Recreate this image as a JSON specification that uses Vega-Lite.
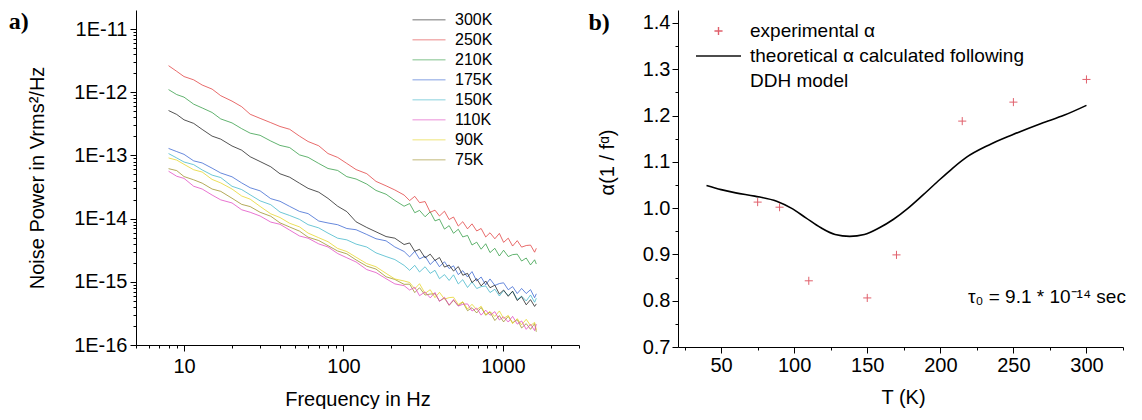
{
  "$schema": "https://vega.github.io/schema/vega-lite/v6.json",
  "padding": {"left": 8, "top": 10, "right": 0, "bottom": 0},
  "spacing": 8,
  "resolve": {"scale": {"color": "independent", "shape": "independent"}, "legend": {"color": "independent", "shape": "independent"}},
  "config": {
    "font": "Liberation Sans",
    "view": {"stroke": null},
    "axis": {"grid": false, "domainColor": "black", "domainWidth": 1, "tickColor": "black", "tickWidth": 1, "labelColor": "black", "titleColor": "black", "labelFont": "Liberation Sans", "titleFont": "Liberation Sans", "labelFontSize": 20, "titleFontSize": 20, "titleFontWeight": "normal", "labelOverlap": false, "labelFlush": false},
    "legend": {"labelFont": "Liberation Sans", "labelColor": "black", "padding": 0}
  },
  "hconcat": [
    {
      "width": 443,
      "height": 335,
      "title": {"text": "a)", "orient": "left", "anchor": "end", "frame": "group", "angle": 0, "align": "right", "baseline": "top", "dy": 0, "offset": -21, "font": "Liberation Serif", "fontSize": 24, "fontWeight": "bold", "color": "black"},
      "data": {"values": [
        {"f": 8, "300K": 5.13e-13, "250K": 2.63e-12, "210K": 1.10e-12, "175K": 1.29e-13, "150K": 1.07e-13, "110K": 5.62e-14, "90K": 9.12e-14, "75K": 6.17e-14},
        {"f": 9, "300K": 4.45e-13, "250K": 2.14e-12, "210K": 9.18e-13, "175K": 1.15e-13, "150K": 9.12e-14, "110K": 4.68e-14, "90K": 8.43e-14, "75K": 5.75e-14},
        {"f": 10, "300K": 3.66e-13, "250K": 1.77e-12, "210K": 8.36e-13, "175K": 1.04e-13, "150K": 7.87e-14, "110K": 4.33e-14, "90K": 7.23e-14, "75K": 4.63e-14},
        {"f": 11.5, "300K": 3.21e-13, "250K": 1.57e-12, "210K": 6.47e-13, "175K": 8.20e-14, "150K": 7.14e-14, "110K": 3.25e-14, "90K": 5.93e-14, "75K": 4.11e-14},
        {"f": 13, "300K": 2.58e-13, "250K": 1.30e-12, "210K": 5.64e-13, "175K": 7.60e-14, "150K": 5.90e-14, "110K": 2.94e-14, "90K": 5.46e-14, "75K": 3.64e-14},
        {"f": 15, "300K": 2.02e-13, "250K": 1.12e-12, "210K": 4.78e-13, "175K": 6.28e-14, "150K": 4.88e-14, "110K": 2.36e-14, "90K": 4.17e-14, "75K": 2.94e-14},
        {"f": 17, "300K": 1.81e-13, "250K": 8.81e-13, "210K": 3.78e-13, "175K": 5.27e-14, "150K": 4.46e-14, "110K": 1.98e-14, "90K": 3.67e-14, "75K": 2.70e-14},
        {"f": 20, "300K": 1.41e-13, "250K": 7.23e-13, "210K": 3.27e-13, "175K": 4.59e-14, "150K": 3.25e-14, "110K": 1.77e-14, "90K": 2.94e-14, "75K": 2.10e-14},
        {"f": 23, "300K": 1.21e-13, "250K": 5.90e-13, "210K": 2.65e-13, "175K": 3.67e-14, "150K": 2.88e-14, "110K": 1.38e-14, "90K": 2.28e-14, "75K": 1.68e-14},
        {"f": 26, "300K": 9.53e-14, "250K": 4.48e-13, "210K": 2.25e-13, "175K": 3.08e-14, "150K": 2.38e-14, "110K": 1.26e-14, "90K": 2.03e-14, "75K": 1.55e-14},
        {"f": 30, "300K": 8.00e-14, "250K": 3.86e-13, "210K": 2.08e-13, "175K": 2.75e-14, "150K": 1.91e-14, "110K": 1.10e-14, "90K": 1.56e-14, "75K": 1.26e-14},
        {"f": 35, "300K": 6.61e-14, "250K": 3.30e-13, "210K": 1.69e-13, "175K": 2.07e-14, "150K": 1.66e-14, "110K": 8.81e-15, "90K": 1.19e-14, "75K": 1.09e-14},
        {"f": 40, "300K": 5.12e-14, "250K": 2.87e-13, "210K": 1.44e-13, "175K": 1.88e-14, "150K": 1.27e-14, "110K": 8.13e-15, "90K": 1.04e-14, "75K": 8.57e-15},
        {"f": 46, "300K": 4.52e-14, "250K": 2.59e-13, "210K": 1.33e-13, "175K": 1.56e-14, "150K": 1.12e-14, "110K": 6.58e-15, "90K": 8.43e-15, "75K": 7.36e-15},
        {"f": 53, "300K": 3.63e-14, "250K": 2.02e-13, "210K": 1.02e-13, "175K": 1.30e-14, "150K": 9.73e-15, "110K": 5.31e-15, "90K": 7.40e-15, "75K": 6.34e-15},
        {"f": 60, "300K": 3.01e-14, "250K": 1.66e-13, "210K": 9.33e-14, "175K": 1.20e-14, "150K": 8.02e-15, "110K": 4.90e-15, "90K": 5.90e-15, "75K": 5.08e-15},
        {"f": 70, "300K": 2.62e-14, "250K": 1.42e-13, "210K": 7.46e-14, "175K": 9.16e-15, "150K": 7.13e-15, "110K": 3.98e-15, "90K": 4.98e-15, "75K": 4.50e-15},
        {"f": 80, "300K": 2.09e-14, "250K": 1.07e-13, "210K": 6.21e-14, "175K": 8.53e-15, "150K": 5.89e-15, "110K": 3.56e-15, "90K": 4.31e-15, "75K": 3.73e-15},
        {"f": 92, "300K": 1.57e-14, "250K": 9.29e-14, "210K": 5.78e-14, "175K": 8.00e-15, "150K": 4.90e-15, "110K": 2.80e-15, "90K": 3.37e-15, "75K": 3.07e-15},
        {"f": 105, "300K": 1.29e-14, "250K": 7.46e-14, "210K": 4.61e-14, "175K": 6.97e-15, "150K": 4.61e-15, "110K": 2.40e-15, "90K": 3.01e-15, "75K": 2.77e-15},
        {"f": 120, "300K": 8.89e-15, "250K": 5.97e-14, "210K": 4.23e-14, "175K": 6.67e-15, "150K": 3.95e-15, "110K": 2.06e-15, "90K": 2.45e-15, "75K": 2.22e-15},
        {"f": 140, "300K": 7.24e-15, "250K": 5.14e-14, "210K": 3.52e-14, "175K": 5.61e-15, "150K": 3.55e-15, "110K": 1.56e-15, "90K": 1.94e-15, "75K": 1.77e-15},
        {"f": 160, "300K": 6.18e-15, "250K": 3.88e-14, "210K": 2.79e-14, "175K": 4.80e-15, "150K": 2.87e-15, "110K": 1.40e-15, "90K": 1.73e-15, "75K": 1.59e-15},
        {"f": 185, "300K": 5.20e-15, "250K": 3.30e-14, "210K": 2.43e-14, "175K": 4.45e-15, "150K": 2.51e-15, "110K": 1.12e-15, "90K": 1.36e-15, "75K": 1.20e-15},
        {"f": 210, "300K": 4.90e-15, "250K": 2.84e-14, "210K": 1.94e-14, "175K": 3.56e-15, "150K": 2.25e-15, "110K": 9.27e-16, "90K": 1.11e-15, "75K": 1.09e-15},
        {"f": 240, "300K": 3.89e-15, "250K": 2.36e-14, "210K": 1.57e-14, "175K": 3.02e-15, "150K": 1.82e-15, "110K": 8.69e-16, "90K": 1.03e-15, "75K": 9.12e-16},
        {"f": 260, "300K": 4.12e-15, "250K": 1.93e-14, "210K": 1.73e-14, "175K": 2.48e-15, "150K": 1.52e-15, "110K": 7.41e-16, "90K": 9.75e-16, "75K": 9.18e-16},
        {"f": 280, "300K": 3.04e-15, "250K": 2.25e-14, "210K": 1.24e-14, "175K": 3.04e-15, "150K": 1.82e-15, "110K": 8.20e-16, "90K": 7.74e-16, "75K": 6.75e-16},
        {"f": 300, "300K": 3.27e-15, "250K": 1.79e-14, "210K": 1.35e-14, "175K": 2.30e-15, "150K": 1.43e-15, "110K": 6.03e-16, "90K": 9.33e-16, "75K": 8.07e-16},
        {"f": 325, "300K": 2.39e-15, "250K": 1.86e-14, "210K": 1.07e-14, "175K": 2.55e-15, "150K": 1.73e-15, "110K": 6.93e-16, "90K": 6.55e-16, "75K": 6.17e-16},
        {"f": 350, "300K": 2.74e-15, "250K": 1.26e-14, "210K": 1.28e-14, "175K": 1.88e-15, "150K": 1.36e-15, "110K": 5.56e-16, "90K": 7.50e-16, "75K": 6.40e-16},
        {"f": 375, "300K": 2.18e-15, "250K": 1.36e-14, "210K": 9.20e-15, "175K": 2.22e-15, "150K": 1.52e-15, "110K": 6.78e-16, "90K": 5.61e-16, "75K": 6.46e-16},
        {"f": 400, "300K": 2.42e-15, "250K": 1.10e-14, "210K": 9.79e-15, "175K": 1.73e-15, "150K": 1.12e-15, "110K": 4.89e-16, "90K": 6.82e-16, "75K": 4.98e-16},
        {"f": 430, "300K": 1.71e-15, "250K": 1.31e-14, "210K": 6.82e-15, "175K": 2.08e-15, "150K": 1.30e-15, "110K": 5.69e-16, "90K": 5.33e-16, "75K": 5.52e-16},
        {"f": 460, "300K": 1.84e-15, "250K": 9.66e-15, "210K": 7.74e-15, "175K": 1.62e-15, "150K": 1.05e-15, "110K": 4.28e-16, "90K": 5.62e-16, "75K": 4.24e-16},
        {"f": 490, "300K": 1.48e-15, "250K": 1.06e-14, "210K": 5.86e-15, "175K": 1.79e-15, "150K": 1.29e-15, "110K": 5.25e-16, "90K": 5.70e-16, "75K": 5.07e-16},
        {"f": 525, "300K": 1.74e-15, "250K": 7.62e-15, "210K": 6.79e-15, "175K": 1.30e-15, "150K": 9.25e-16, "110K": 4.13e-16, "90K": 4.37e-16, "75K": 4.18e-16},
        {"f": 560, "300K": 1.27e-15, "250K": 8.93e-15, "210K": 5.13e-15, "175K": 1.50e-15, "150K": 1.08e-15, "110K": 4.41e-16, "90K": 4.84e-16, "75K": 4.76e-16},
        {"f": 600, "300K": 1.36e-15, "250K": 6.89e-15, "210K": 5.42e-15, "175K": 1.19e-15, "150K": 8.13e-16, "110K": 4.47e-16, "90K": 3.71e-16, "75K": 3.49e-16},
        {"f": 640, "300K": 9.75e-16, "250K": 8.26e-15, "210K": 3.82e-15, "175K": 1.45e-15, "150K": 9.95e-16, "110K": 3.45e-16, "90K": 4.41e-16, "75K": 3.89e-16},
        {"f": 685, "300K": 1.12e-15, "250K": 6.37e-15, "210K": 4.24e-15, "175K": 1.03e-15, "150K": 7.83e-16, "110K": 3.84e-16, "90K": 3.61e-16, "75K": 3.21e-16},
        {"f": 730, "300K": 8.61e-16, "250K": 6.98e-15, "210K": 3.28e-15, "175K": 1.19e-15, "150K": 8.38e-16, "110K": 2.97e-16, "90K": 4.11e-16, "75K": 3.93e-16},
        {"f": 780, "300K": 1.03e-15, "250K": 5.12e-15, "210K": 4.00e-15, "175K": 8.95e-16, "150K": 8.61e-16, "110K": 3.56e-16, "90K": 3.03e-16, "75K": 2.96e-16},
        {"f": 830, "300K": 8.07e-16, "250K": 5.97e-15, "210K": 2.90e-15, "175K": 1.11e-15, "150K": 6.76e-16, "110K": 2.96e-16, "90K": 3.40e-16, "75K": 3.32e-16},
        {"f": 890, "300K": 8.83e-16, "250K": 4.80e-15, "210K": 3.39e-15, "175K": 8.77e-16, "150K": 7.62e-16, "110K": 3.37e-16, "90K": 2.82e-16, "75K": 2.44e-16},
        {"f": 950, "300K": 6.41e-16, "250K": 5.83e-15, "210K": 2.56e-15, "175K": 9.38e-16, "150K": 5.96e-16, "110K": 2.49e-16, "90K": 3.46e-16, "75K": 2.92e-16},
        {"f": 1010, "300K": 7.41e-16, "250K": 4.21e-15, "210K": 3.16e-15, "175K": 9.64e-16, "150K": 7.24e-16, "110K": 2.79e-16, "90K": 2.63e-16, "75K": 2.32e-16},
        {"f": 1080, "300K": 5.90e-16, "250K": 4.90e-15, "210K": 2.51e-15, "175K": 7.48e-16, "150K": 6.07e-16, "110K": 2.31e-16, "90K": 2.94e-16, "75K": 2.84e-16},
        {"f": 1150, "300K": 7.11e-16, "250K": 3.68e-15, "210K": 2.69e-15, "175K": 8.39e-16, "150K": 7.03e-16, "110K": 2.84e-16, "90K": 2.18e-16, "75K": 2.25e-16},
        {"f": 1230, "300K": 5.05e-16, "250K": 4.48e-15, "210K": 2.74e-15, "175K": 6.52e-16, "150K": 5.25e-16, "110K": 2.14e-16, "90K": 2.61e-16, "75K": 2.52e-16},
        {"f": 1310, "300K": 5.82e-16, "250K": 3.54e-15, "210K": 2.13e-15, "175K": 7.85e-16, "150K": 5.94e-16, "110K": 2.40e-16, "90K": 2.08e-16, "75K": 1.86e-16},
        {"f": 1400, "300K": 4.32e-16, "250K": 3.75e-15, "210K": 2.38e-15, "175K": 6.53e-16, "150K": 4.98e-16, "110K": 1.77e-16, "90K": 2.55e-16, "75K": 2.18e-16},
        {"f": 1490, "300K": 5.22e-16, "250K": 3.81e-15, "210K": 1.85e-15, "175K": 7.52e-16, "150K": 6.19e-16, "110K": 2.13e-16, "90K": 2.03e-16, "75K": 1.77e-16},
        {"f": 1580, "300K": 4.08e-16, "250K": 2.94e-15, "210K": 2.23e-15, "175K": 5.60e-16, "150K": 4.74e-16, "110K": 1.69e-16, "90K": 2.28e-16, "75K": 2.18e-16},
        {"f": 1620, "300K": 4.47e-16, "250K": 3.39e-15, "210K": 1.91e-15, "175K": 6.46e-16, "150K": 5.50e-16, "110K": 2.14e-16, "90K": 1.74e-16, "75K": 1.62e-16}
      ]},
      "transform": [{"fold": ["75K", "90K", "110K", "150K", "175K", "210K", "250K", "300K"], "as": ["series", "power"]}],
      "mark": {"type": "line", "strokeWidth": 1, "opacity": 0.75, "clip": true},
      "encoding": {
        "x": {"field": "f", "type": "quantitative",
          "scale": {"type": "log", "domain": [5, 3000], "nice": false},
          "axis": {"title": "Frequency in Hz", "titlePadding": 13, "labelPadding": 5,
            "values": [5, 6, 7, 8, 9, 10, 20, 30, 40, 50, 60, 70, 80, 90, 100, 200, 300, 400, 500, 600, 700, 800, 900, 1000, 2000, 3000],
            "labelExpr": "(datum.value == 10 || datum.value == 100 || datum.value == 1000) ? format(datum.value, 'd') : ''",
            "tickSize": {"condition": {"test": "datum.value == 10 || datum.value == 100 || datum.value == 1000", "value": 6}, "value": 3}}},
        "y": {"field": "power", "type": "quantitative",
          "scale": {"type": "log", "domain": [1e-16, 2e-11], "nice": false},
          "axis": {"title": "Noise Power in Vrms²/Hz", "titlePadding": 26, "labelPadding": 3,
            "values": [1e-16, 2e-16, 3e-16, 4e-16, 5e-16, 6e-16, 7e-16, 8e-16, 9e-16, 1e-15, 2e-15, 3e-15, 4e-15, 5e-15, 6e-15, 7e-15, 8e-15, 9e-15, 1e-14, 2e-14, 3e-14, 4e-14, 5e-14, 6e-14, 7e-14, 8e-14, 9e-14, 1e-13, 2e-13, 3e-13, 4e-13, 5e-13, 6e-13, 7e-13, 8e-13, 9e-13, 1e-12, 2e-12, 3e-12, 4e-12, 5e-12, 6e-12, 7e-12, 8e-12, 9e-12, 1e-11],
            "labelExpr": "abs(log(datum.value) / LN10 - round(log(datum.value) / LN10)) < 0.01 ? '1E' + round(log(datum.value) / LN10) : ''",
            "tickSize": {"condition": {"test": "abs(log(datum.value) / LN10 - round(log(datum.value) / LN10)) < 0.01", "value": 6}, "value": 3}}},
        "color": {"field": "series", "type": "nominal",
          "scale": {"domain": ["300K", "250K", "210K", "175K", "150K", "110K", "90K", "75K"],
                    "range": ["#1a1a1a", "#e03a3a", "#2e9a40", "#3462d0", "#3cb4c8", "#e046c0", "#e6d422", "#9a8c22"]},
          "legend": {"title": null, "orient": "none", "legendX": 276, "legendY": 0, "symbolType": "stroke", "symbolSize": 1089, "symbolStrokeWidth": 1, "symbolOpacity": 0.6, "labelFontSize": 16, "labelOffset": 9, "rowPadding": 0, "clipHeight": 19.7}}
      }
    },
    {
      "width": 445,
      "height": 337,
      "title": {"text": "b)", "orient": "left", "anchor": "end", "frame": "group", "angle": 0, "align": "right", "baseline": "top", "dy": 1, "offset": -34, "font": "Liberation Serif", "fontSize": 24, "fontWeight": "bold", "color": "black"},
      "layer": [
        {
          "data": {"values": [
            {"T": 40, "alpha": 1.049}, {"T": 50, "alpha": 1.040}, {"T": 60, "alpha": 1.033}, {"T": 73, "alpha": 1.026},
            {"T": 88, "alpha": 1.015}, {"T": 98, "alpha": 1.0}, {"T": 108, "alpha": 0.979}, {"T": 118, "alpha": 0.958},
            {"T": 128, "alpha": 0.943}, {"T": 138, "alpha": 0.939}, {"T": 148, "alpha": 0.943}, {"T": 158, "alpha": 0.957},
            {"T": 168, "alpha": 0.976}, {"T": 178, "alpha": 1.0}, {"T": 188, "alpha": 1.028}, {"T": 198, "alpha": 1.057},
            {"T": 208, "alpha": 1.085}, {"T": 218, "alpha": 1.110}, {"T": 233, "alpha": 1.136}, {"T": 249, "alpha": 1.158},
            {"T": 269, "alpha": 1.183}, {"T": 285, "alpha": 1.201}, {"T": 300, "alpha": 1.222}
          ]},
          "mark": {"type": "line", "color": "black", "strokeWidth": 1.6, "interpolate": "monotone"},
          "encoding": {
            "x": {"field": "T", "type": "quantitative",
              "scale": {"domain": [20.5, 325], "nice": false, "zero": false},
              "axis": {"title": "T (K)", "titlePadding": 12, "labelPadding": 2, "titleX": 225,
                "values": [25, 50, 75, 100, 125, 150, 175, 200, 225, 250, 275, 300, 325],
                "labelExpr": "(datum.value == 50 || datum.value == 100 || datum.value == 150 || datum.value == 200 || datum.value == 250 || datum.value == 300) ? format(datum.value, 'd') : ''",
                "tickSize": {"condition": {"test": "datum.value == 50 || datum.value == 100 || datum.value == 150 || datum.value == 200 || datum.value == 250 || datum.value == 300", "value": 6}, "value": 3}}},
            "y": {"field": "alpha", "type": "quantitative",
              "scale": {"domain": [0.7, 1.428], "nice": false, "zero": false},
              "axis": {"title": "α(1 / fᵅ)", "titlePadding": 25, "labelPadding": 2, "titleY": 152,
                "values": [0.7, 0.75, 0.8, 0.85, 0.9, 0.95, 1.0, 1.05, 1.1, 1.15, 1.2, 1.25, 1.3, 1.35, 1.4],
                "labelExpr": "abs(datum.value * 10 - round(datum.value * 10)) < 0.01 ? format(datum.value, '.1f') : ''",
                "tickSize": {"condition": {"test": "abs(datum.value * 10 - round(datum.value * 10)) < 0.01", "value": 6}, "value": 3}}}
          }
        },
        {
          "data": {"values": [
            {"T": 75, "alpha": 1.013, "series": "experimental α"},
            {"T": 90, "alpha": 1.002, "series": "experimental α"},
            {"T": 110, "alpha": 0.843, "series": "experimental α"},
            {"T": 150, "alpha": 0.806, "series": "experimental α"},
            {"T": 170, "alpha": 0.899, "series": "experimental α"},
            {"T": 215, "alpha": 1.188, "series": "experimental α"},
            {"T": 250, "alpha": 1.229, "series": "experimental α"},
            {"T": 300, "alpha": 1.278, "series": "experimental α"}
          ]},
          "mark": {"type": "point", "filled": false, "size": 2025, "strokeWidth": 1, "opacity": 1},
          "encoding": {
            "x": {"field": "T", "type": "quantitative",
              "scale": {"domain": [20.5, 325], "nice": false, "zero": false},
              "axis": {"title": "T (K)", "titlePadding": 12, "labelPadding": 2, "titleX": 225,
                "values": [25, 50, 75, 100, 125, 150, 175, 200, 225, 250, 275, 300, 325],
                "labelExpr": "(datum.value == 50 || datum.value == 100 || datum.value == 150 || datum.value == 200 || datum.value == 250 || datum.value == 300) ? format(datum.value, 'd') : ''",
                "tickSize": {"condition": {"test": "datum.value == 50 || datum.value == 100 || datum.value == 150 || datum.value == 200 || datum.value == 250 || datum.value == 300", "value": 6}, "value": 3}}},
            "y": {"field": "alpha", "type": "quantitative",
              "scale": {"domain": [0.7, 1.428], "nice": false, "zero": false},
              "axis": {"title": "α(1 / fᵅ)", "titlePadding": 25, "labelPadding": 2, "titleY": 152,
                "values": [0.7, 0.75, 0.8, 0.85, 0.9, 0.95, 1.0, 1.05, 1.1, 1.15, 1.2, 1.25, 1.3, 1.35, 1.4],
                "labelExpr": "abs(datum.value * 10 - round(datum.value * 10)) < 0.01 ? format(datum.value, '.1f') : ''",
                "tickSize": {"condition": {"test": "abs(datum.value * 10 - round(datum.value * 10)) < 0.01", "value": 6}, "value": 3}}},
            "color": {"field": "series", "type": "nominal",
              "scale": {"domain": ["experimental α", "theoretical α calculated following", "DDH model"], "range": ["#e0606c", "#111111", "transparent"]},
              "legend": {"title": null, "orient": "none", "legendX": 17, "legendY": 8.5, "symbolSize": 2025, "symbolStrokeWidth": 1.4, "labelFontSize": 19, "labelOffset": 8, "labelLimit": 400, "rowPadding": 0, "clipHeight": 25}},
            "shape": {"field": "series", "type": "nominal",
              "scale": {"domain": ["experimental α", "theoretical α calculated following", "DDH model"], "range": ["M-0.18,0H0.18M0,-0.18V0.18", "M-1,0H1", "M0,0"]},
              "legend": {"title": null, "orient": "none", "legendX": 17, "legendY": 8.5, "symbolSize": 2025, "symbolStrokeWidth": 1.4, "labelFontSize": 19, "labelOffset": 8, "labelLimit": 400, "rowPadding": 0, "clipHeight": 25}}
          }
        },
        {
          "data": {"values": [{"note": "τ₀ = 9.1 * 10⁻¹⁴ sec"}]},
          "mark": {"type": "text", "align": "right", "baseline": "middle", "fontSize": 19, "font": "Liberation Sans", "color": "black"},
          "encoding": {
            "x": {"datum": 327, "type": "quantitative",
              "scale": {"domain": [20.5, 325], "nice": false, "zero": false},
              "axis": {"title": "T (K)", "titlePadding": 12, "labelPadding": 2, "titleX": 225,
                "values": [25, 50, 75, 100, 125, 150, 175, 200, 225, 250, 275, 300, 325],
                "labelExpr": "(datum.value == 50 || datum.value == 100 || datum.value == 150 || datum.value == 200 || datum.value == 250 || datum.value == 300) ? format(datum.value, 'd') : ''",
                "tickSize": {"condition": {"test": "datum.value == 50 || datum.value == 100 || datum.value == 150 || datum.value == 200 || datum.value == 250 || datum.value == 300", "value": 6}, "value": 3}}},
            "y": {"datum": 0.808, "type": "quantitative",
              "scale": {"domain": [0.7, 1.428], "nice": false, "zero": false},
              "axis": {"title": "α(1 / fᵅ)", "titlePadding": 25, "labelPadding": 2, "titleY": 152,
                "values": [0.7, 0.75, 0.8, 0.85, 0.9, 0.95, 1.0, 1.05, 1.1, 1.15, 1.2, 1.25, 1.3, 1.35, 1.4],
                "labelExpr": "abs(datum.value * 10 - round(datum.value * 10)) < 0.01 ? format(datum.value, '.1f') : ''",
                "tickSize": {"condition": {"test": "abs(datum.value * 10 - round(datum.value * 10)) < 0.01", "value": 6}, "value": 3}}},
            "text": {"field": "note", "type": "nominal"}
          }
        }
      ]
    }
  ]
}
